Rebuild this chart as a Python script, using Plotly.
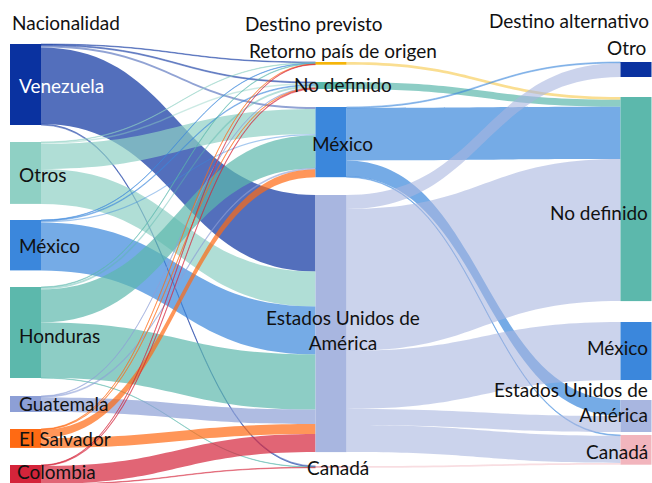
import plotly.graph_objects as go

W, H = 652, 483

# ---------------- data ----------------
labels = ["Venezuela", "Otros", "México", "Honduras", "Guatemala", "El Salvador", "Colombia",
          "Retorno país de origen", "No definido", "México", "Estados Unidos de América", "Canadá",
          "Otro", "No definido", "México", "Estados Unidos de América", "Canadá"]
columns = ["Nacionalidad", "Destino previsto", "Destino alternativo"]

sources = [0, 0, 0, 0, 0,
           1, 1, 1, 1,
           2, 2, 2, 2,
           3, 3, 3, 3, 3,
           4, 4, 4,
           5, 5, 5, 5,
           6, 6, 6, 6,
           7, 8,
           9, 9, 9, 9,
           10, 10, 10, 10, 10,
           11]
targets = [7, 8, 9, 10, 11,
           7, 8, 9, 10,
           7, 8, 9, 10,
           7, 8, 9, 10, 11,
           8, 9, 10,
           7, 8, 9, 10,
           7, 8, 10, 11,
           13, 13,
           12, 13, 15, 16,
           12, 13, 14, 15, 16,
           16]
values = [0.6, 1.0, 2.0, 76.4, 1.0,
          0.4, 1.5, 25.0, 35.0,
          0.4, 0.8, 1.2, 48.0,
          0.5, 2.0, 33.0, 55.2, 0.3,
          0.5, 1.0, 14.5,
          0.4, 0.5, 8.0, 10.0,
          0.4, 0.7, 18.0, 0.5,
          2.7, 7.0,
          1.0, 52.4, 16.0, 0.8,
          14.0, 142.0, 58.0, 16.0, 27.1,
          1.8]

# ---------------- style / layout ----------------
node_colors = ["#0a32a0", "#8fd0c4", "#3b87dc", "#5cb8ac", "#8d9fd6", "#ff6a13", "#d4243a",
               "#f5b50a", "#5cb8ac", "#3b87dc", "#a8b6e0", "#f0b4bc",
               "#0a32a0", "#5cb8ac", "#3b87dc", "#a8b6e0", "#f2b5bd"]
link_alpha = [0.7] * 7 + [0.7, 0.7, 0.7, 0.6, 0.7]


def rgba(hexc, a):
    hexc = hexc.lstrip("#")
    r, g, b = int(hexc[0:2], 16), int(hexc[2:4], 16), int(hexc[4:6], 16)
    return f"rgba({r},{g},{b},{a})"


# thin links look fainter in the reference
link_colors = [rgba(node_colors[s], link_alpha[s] if v >= 3 else 0.45)
               for s, v in zip(sources, values)]

col_of = [0] * 7 + [1] * 5 + [2] * 5
col_center_px = [25.5, 331, 636]
node_top_px = [44, 142, 220, 287, 396, 429, 465,
               62, 82, 107, 195, 466,
               62, 97, 322, 400, 435]

# node values (max of in/out)
n = len(labels)
vin = [0.0] * n
vout = [0.0] * n
for s, t, v in zip(sources, targets, values):
    vout[s] += v
    vin[t] += v
nval = [max(a, b) for a, b in zip(vin, vout)]

# padding chosen so that 1 value unit = 1 px (left column is the binding one)
left_sum = sum(nval[i] for i in range(n) if col_of[i] == 0)
pad = (H - left_sum) / 6.0

node_x = [col_center_px[c] / W for c in col_of]
node_y = [(node_top_px[i] + nval[i] / 2.0) / H for i in range(n)]

fig = go.Figure(go.Sankey(
    arrangement="fixed",
    domain=dict(x=[0, 1], y=[0, 1]),
    node=dict(label=labels, color=node_colors, x=node_x, y=node_y,
              pad=pad, thickness=31, line=dict(width=0)),
    link=dict(source=sources, target=targets, value=values, color=link_colors),
    textfont=dict(color="rgba(0,0,0,0)", size=1),
))

FONT = "Lato, 'Open Sans', sans-serif"
FS = 19

# label placement (px): (x, y_center, anchor)
label_pos = [
    (17, 85, "left"), (17, 174, "left"), (17, 245, "left"), (17, 335, "left"),
    (17, 403, "left"), (17, 438, "left"), (15, 471, "left"),
    (343, 51, "center"), (343, 84, "center"), (342, 143, "center"), (343, 330, "center"),
    (338, 467, "center"),
    (648, 48, "right"), (650, 212, "right"), (650, 347, "right"), (650, 402, "right"),
    (650, 451, "right"),
]
label_color = ["white"] + ["#111111"] * (n - 1)

ann = []
for i, (lx, ly, anc) in enumerate(label_pos):
    txt = labels[i].replace("Unidos de ", "Unidos de<br>")
    ann.append(dict(x=lx / W, y=1 - ly / H, xref="paper", yref="paper", text=txt,
                    showarrow=False, xanchor=anc, yanchor="middle", align=anc,
                    font=dict(family=FONT, size=FS, color=label_color[i])))

header_pos = [(10, 22, "left"), (243, 23, "left"), (651, 20, "right")]
for txt, (hx, hy, anc) in zip(columns, header_pos):
    ann.append(dict(x=hx / W, y=1 - hy / H, xref="paper", yref="paper", text=txt,
                    showarrow=False, xanchor=anc, yanchor="middle",
                    font=dict(family=FONT, size=FS, color="#111111")))

fig.update_layout(width=W, height=H, margin=dict(l=0, r=0, t=0, b=0),
                  paper_bgcolor="white", plot_bgcolor="white",
                  annotations=ann, font=dict(family=FONT))

fig.write_html("out.html", config={"displayModeBar": False},
               post_script="document.body.style.margin='0px';document.body.style.overflow='hidden';")
